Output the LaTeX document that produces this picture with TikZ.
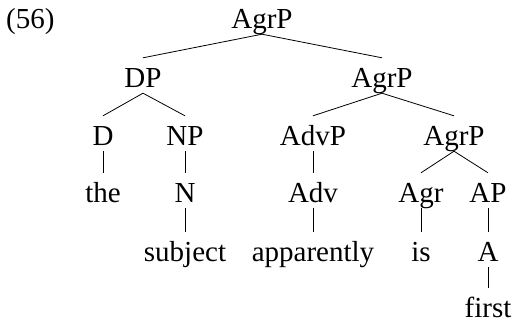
\documentclass[tikz,border=0pt]{standalone}
\usepackage{fontspec}
\setmainfont{Liberation Serif}
\begin{document}
\begin{tikzpicture}[x=1pt,y=-1pt,
  lab/.style={anchor=base,inner xsep=0pt,inner ysep=0pt,text height=29pt,text depth=6pt,font=\fontsize{29}{35}\selectfont},
  br/.style={line width=0.8pt}]
\useasboundingbox (0,0) rectangle (514,322);
\node[lab,anchor=base west,text height=0pt,text depth=0pt] (ex) at (6,28) {(56)};
\node[lab] (agr0) at (262,28) {AgrP};
\node[lab] (dp) at (143,87) {DP};
\node[lab] (agr1) at (382,87) {AgrP};
\node[lab] (d) at (103,145) {D};
\node[lab] (np) at (185,145) {NP};
\node[lab] (advp) at (313,145) {AdvP};
\node[lab] (agr2) at (454,145) {AgrP};
\node[lab] (the) at (103,202) {the};
\node[lab] (n) at (185,202) {N};
\node[lab] (adv) at (313,202) {Adv};
\node[lab] (agr) at (421,202) {Agr};
\node[lab] (ap) at (488,202) {AP};
\node[lab] (subj) at (185,261) {subject};
\node[lab] (app) at (313,261) {apparently};
\node[lab] (is) at (421,261) {is};
\node[lab] (a) at (488,261) {A};
\node[lab,text depth=0pt] (first) at (488,317) {first};
\draw[br] (agr0.south) -- (dp.north);
\draw[br] (agr0.south) -- (agr1.north);
\draw[br] (dp.south) -- (d.north);
\draw[br] (dp.south) -- (np.north);
\draw[br] (agr1.south) -- (advp.north);
\draw[br] (agr1.south) -- (agr2.north);
\draw[br] (d.south) -- (the.north);
\draw[br] (np.south) -- (n.north);
\draw[br] (advp.south) -- (adv.north);
\draw[br] (agr2.south) -- (agr.north);
\draw[br] (agr2.south) -- (ap.north);
\draw[br] (n.south) -- (subj.north);
\draw[br] (adv.south) -- (app.north);
\draw[br] (agr.south) -- (is.north);
\draw[br] (ap.south) -- (a.north);
\draw[br] (a.south) -- (first.north);
\end{tikzpicture}
\end{document}
